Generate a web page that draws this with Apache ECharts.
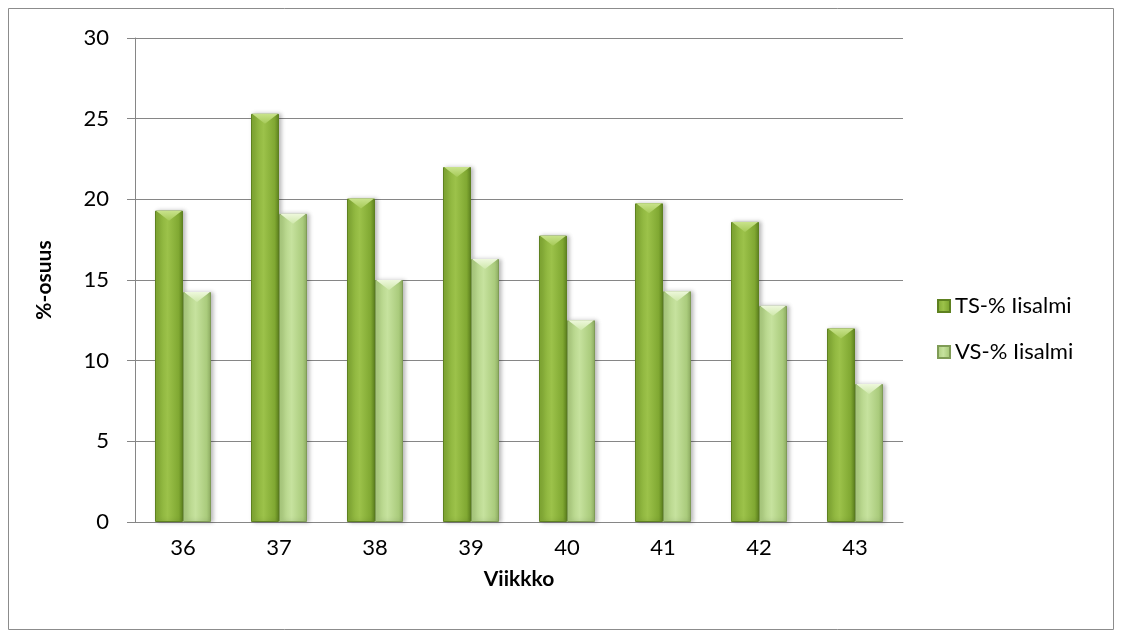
<!DOCTYPE html>
<html>
<head>
<meta charset="utf-8">
<script src="https://cdn.jsdelivr.net/npm/echarts@6/dist/echarts.min.js"></script>
<style>
  html, body { margin: 0; padding: 0; background: #fff; }
  #chart { width: 1122px; height: 638px; }
</style>
</head>
<body>
<div id="chart"></div>
<script>
// Weekly share (%) per week number
const weeks = ['36', '37', '38', '39', '40', '41', '42', '43'];
const tsValues = [19.3, 25.3, 20.05, 22.0, 17.75, 19.75, 18.6, 12.0];
const vsValues = [14.25, 19.1, 15.0, 16.3, 12.5, 14.3, 13.4, 8.55];
const yTicks = [0, 5, 10, 15, 20, 25, 30];

const FONT = "Lato, 'Open Sans', sans-serif";
const BAR_W = 28;

function hGrad(edge, mid, dark) {
  return new echarts.graphic.LinearGradient(0, 0, 1, 0, [
    { offset: 0, color: edge },
    { offset: 0.45, color: mid },
    { offset: 0.85, color: edge },
    { offset: 1, color: dark }
  ]);
}

const tsFill = hGrad('#80a832', '#9cc24a', '#5f8420');
const vsFill = hGrad('#aacb7c', '#c6e29e', '#8fae63');

// bevelled cap drawn on top of each bar
function capSeries(values, offset, light, mid) {
  return {
    type: 'custom',
    silent: true,
    z: 5,
    data: values.map((v, i) => [i, v]),
    renderItem: function (params, api) {
      const p = api.coord([api.value(0), api.value(1)]);
      const cx = p[0] + offset;
      const top = p[1];
      const l = cx - BAR_W / 2 + 1, r = cx + BAR_W / 2 - 1;
      return {
        type: 'polygon',
        shape: { points: [[l, top], [r, top], [cx, top + 10]] },
        style: {
          fill: new echarts.graphic.LinearGradient(0, 0, 0, 1, [
            { offset: 0, color: light },
            { offset: 1, color: mid }
          ])
        }
      };
    }
  };
}

const chart = echarts.init(document.getElementById('chart'));
chart.setOption({
  animation: false,
  backgroundColor: '#ffffff',
  graphic: [{
    type: 'rect',
    shape: { x: 8.5, y: 8.5, width: 1105, height: 621 },
    style: { fill: 'none', stroke: '#8c8c8c', lineWidth: 1 },
    silent: true,
    z: -1
  }],
  grid: { left: 135, right: 219, top: 38, bottom: 116 },
  legend: {
    orient: 'vertical',
    left: 932,
    top: 290,
    itemWidth: 12,
    itemHeight: 12,
    itemGap: 24,
    icon: 'rect',
    textStyle: { fontFamily: FONT, fontSize: 22, color: '#000' },
    data: ['TS-% Iisalmi', 'VS-% Iisalmi']
  },
  xAxis: {
    type: 'category',
    data: weeks,
    name: 'Viikkko',
    nameLocation: 'middle',
    nameGap: 47,
    nameTextStyle: { fontFamily: FONT, fontSize: 21, fontWeight: 'bold', color: '#000' },
    axisLine: { lineStyle: { color: '#868686', width: 1 } },
    axisTick: { show: false },
    axisLabel: { fontFamily: FONT, fontSize: 22, color: '#000', margin: 15 }
  },
  yAxis: {
    type: 'value',
    min: 0,
    max: 30,
    interval: 5,
    name: '%-osuus',
    nameLocation: 'middle',
    nameRotate: 90,
    nameGap: 80,
    nameTextStyle: { fontFamily: FONT, fontSize: 21, fontWeight: 'bold', color: '#000' },
    axisLine: { show: true, lineStyle: { color: '#868686', width: 1 } },
    axisTick: { show: true, length: 8, lineStyle: { color: '#868686' } },
    axisLabel: {
      fontFamily: FONT, fontSize: 22, color: '#000', margin: 26,
      formatter: v => (yTicks.indexOf(v) >= 0 ? String(v) : '')
    },
    splitLine: { lineStyle: { color: '#868686', width: 1 } }
  },
  series: [
    {
      name: 'TS-% Iisalmi',
      type: 'bar',
      barWidth: BAR_W,
      barGap: '0%',
      data: tsValues,
      itemStyle: {
        color: tsFill,
        borderColor: '#5e8120',
        borderWidth: 1,
        shadowColor: 'rgba(0,0,0,0.25)',
        shadowBlur: 4,
        shadowOffsetX: 2
      }
    },
    {
      name: 'VS-% Iisalmi',
      type: 'bar',
      barWidth: BAR_W,
      barGap: '0%',
      data: vsValues,
      itemStyle: {
        color: vsFill,
        borderColor: '#7f9c56',
        borderWidth: 1,
        shadowColor: 'rgba(0,0,0,0.25)',
        shadowBlur: 4,
        shadowOffsetX: 2
      }
    },
    capSeries(tsValues, -BAR_W / 2, '#c9e38c', '#a6ca58'),
    capSeries(vsValues, BAR_W / 2, '#eef8dc', '#cfe8ab')
  ]
});
</script>
</body>
</html>
